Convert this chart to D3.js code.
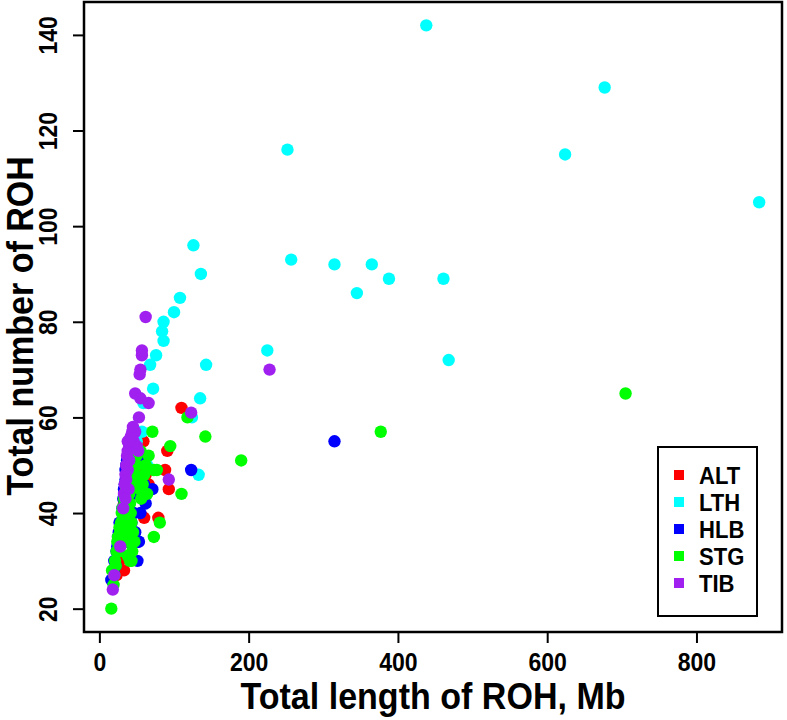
<!DOCTYPE html>
<html><head><meta charset="utf-8">
<script src="https://cdn.jsdelivr.net/npm/d3@7"></script>
<style>body{margin:0;background:#fff}svg{display:block}text{font-family:"Liberation Sans",Arial,sans-serif;font-weight:bold}</style>
</head><body><svg id="c" width="787" height="720"></svg>
<script>
const breeds = ["ALT","LTH","HLB","STG","TIB"];
const colors = ["#FF0000","#00FFFF","#0000FF","#00FF00","#A020F0"];
const xTicks = [0,200,400,600,800];
const yTicks = [20,40,60,80,100,120,140];

// ALT
const altX = [110,91,88,93,79,59,33,60,27,29,31,33,36,39,43,46,50,62,40,23,55,66];
const altY = [62,53,49,45,39,55,28,39,30,35,38,42,45,48,50,47,44,48,36,27,50,46];
// LTH
const lthX = [438,677,252,624,884,126,257,315,365,388,461,345,136,108,100,86,84,86,76,68,143,225,468,72,135,59,57,124,64,133,50,45,35,30,42];
const lthY = [142,129,116,115,105,96,93,92,92,89,89,86,90,85,82,80,78,76,73,71,71,74,72,66,64,63,57,60,50,48,55,52,42,37,48];
// HLB
const hlbX = [16,19,20,22,23,24,25,26,27,31,32,33,34,35,35,36,37,38,40,42,44,46,48,52,51,55,57,60,62,71,123,315,33,38,43,53];
const hlbY = [26,28,30,29,32,33,35,36,38,41,43,45,46,47,49,50,51,52,50,48,44,40,36,34,30,40,51,46,42,45,49,55,40,34,38,34];
// STG
const stgX = [16,17,19,20,21,22,23,24,25,26,27,28,29,30,31,32,33,34,35,36,37,38,39,40,41,42,43,45,47,44,41,38,36,34,46,48,50,52,54,56,58,60,62,50,46,40,55,64,66,71,73,77,81,73,43,95,118,142,190,110,377,705,27,31,35];
const stgY = [20,28,25,27,30,29,32,34,35,33,37,36,38,40,41,39,43,42,44,45,47,46,48,44,42,40,38,36,34,32,30,31,34,37,46,48,50,47,45,43,46,48,50,52,54,51,53,44,52,57,49,49,38,35,30,54,60,56,51,44,57,65,32,35,39];
// TIB
const tibX = [18,20,28,32,33,34,35,36,37,38,40,42,44,46,48,50,52,36,38,40,48,66,53,44,55,57,57,55,54,62,93,123,228,38,42,45,39,35];
const tibY = [24,27,33,41,44,46,48,50,52,53,54,55,56,55,57,54,53,47,49,51,65,63,60,57,64,74,73,70,69,81,47,61,70,55,56,58,45,43];

const seriesX = [altX,lthX,hlbX,stgX,tibX];
const seriesY = [altY,lthY,hlbY,stgY,tibY];

const svg = d3.select("#c");
const L=84, R=782, T=2, B=632;
const x = d3.scaleLinear().domain([-20.6,914.6]).range([L,R]);
const y = d3.scaleLinear().domain([15.12,146.88]).range([B,T]);

// points
breeds.forEach((b,i)=>{
  const pts = seriesX[i].map((v,j)=>[v,seriesY[i][j]]);
  svg.append("g").selectAll("circle").data(pts).join("circle")
    .attr("cx",d=>x(d[0])).attr("cy",d=>y(d[1])).attr("r",6.2)
    .attr("fill",colors[i]);
});

// frame
svg.append("rect").attr("x",L).attr("y",T).attr("width",R-L).attr("height",B-T)
  .attr("fill","none").attr("stroke","#000").attr("stroke-width",2.5);

// x axis
const xa = svg.append("g").attr("transform",`translate(0,${B})`)
  .call(d3.axisBottom(x).tickValues(xTicks).tickSize(11).tickPadding(9).tickFormat(d3.format("d")));
xa.select(".domain").remove();
xa.selectAll("line").attr("stroke","#000").attr("stroke-width",2);
xa.selectAll("text").attr("font-size",26).attr("fill","#000").attr("dy","0.72em")
  .attr("transform","scale(0.885,1)")
  .style("font-family","'Liberation Sans',Arial,sans-serif").style("font-weight","bold");

// y axis
const ya = svg.append("g").attr("transform",`translate(${L},0)`)
  .call(d3.axisLeft(y).tickValues(yTicks).tickSize(11).tickFormat(d3.format("d")));
ya.select(".domain").remove();
ya.selectAll("line").attr("stroke","#000").attr("stroke-width",2);
ya.selectAll("text").attr("font-size",26).attr("fill","#000")
  .attr("x",0).attr("dy",0).attr("text-anchor","middle")
  .attr("transform","translate(-27,0) rotate(-90) scale(0.885,1)")
  .style("font-family","'Liberation Sans',Arial,sans-serif").style("font-weight","bold");

// axis titles
svg.append("text").attr("transform",`translate(${(L+R)/2},709) scale(0.92,1)`)
  .attr("text-anchor","middle").attr("font-size",37).text("Total length of ROH, Mb");
svg.append("text").attr("transform",`translate(33,326) rotate(-90) scale(0.92,1)`)
  .attr("text-anchor","middle").attr("font-size",37).text("Total number of ROH");

// legend
const lg = svg.append("g");
lg.append("rect").attr("x",658).attr("y",447).attr("width",99).attr("height",169)
  .attr("fill","#fff").attr("stroke","#000").attr("stroke-width",2);
breeds.forEach((b,i)=>{
  const cy = 475 + i*27;
  lg.append("rect").attr("x",674).attr("y",cy-5).attr("width",10).attr("height",10).attr("fill",colors[i]);
  lg.append("text").attr("transform",`translate(699,${cy}) scale(0.92,1)`).attr("dy","0.36em")
    .attr("font-size",24).text(b);
});
</script></body></html>
